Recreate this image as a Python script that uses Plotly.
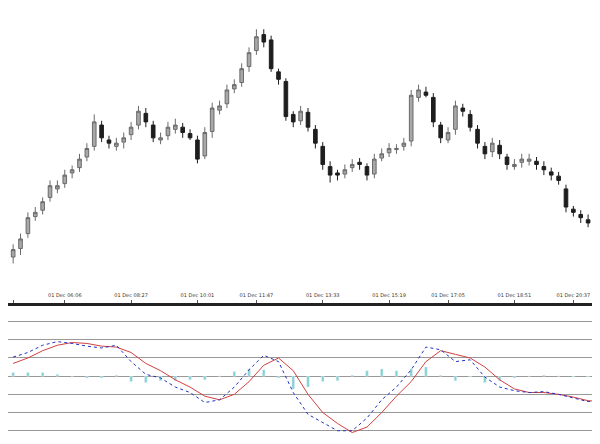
import plotly.graph_objects as go
from plotly.subplots import make_subplots

open_ = [48,56,70,86,92,104,112,117,127,132, 142,152,172,158,152,156,163,172,183,172,
         158,162,168,170,164,158,143,166,186,192, 206,212,227,242,257,252,222,213,182,176,
         184,168,152,133,127,126,132,137,133,126, 141,146,149,152,157,198,203,198,172,158,
         168,188,182,168,152,147,153,142,133,137, 138,138,133,128,124,112,93,88,83,78, 74]
high = [60,70,90,95,104,120,120,130,134,145, 155,182,176,162,160,165,175,190,188,176,
        165,175,178,174,168,162,170,193,195,210, 215,230,245,262,262,256,225,216,185,190,
        188,172,156,138,130,135,140,141,136,145, 150,155,154,160,205,210,208,202,175,170,
        195,192,186,172,156,160,158,145,140,145, 145,142,138,132,128,116,96,92,88,82, 78]
low = [42,50,66,82,88,100,108,113,122,128, 138,148,156,150,148,150,158,168,170,156,
       154,158,164,160,158,136,140,160,182,188, 202,208,222,238,245,222,210,176,170,172,
       166,150,130,118,120,122,128,130,120,122, 138,142,145,148,152,194,198,170,155,155,
       163,180,166,150,140,142,140,130,130,132, 134,130,125,120,116,90,86,80,76,70, 65]
close = [55,65,85,90,100,115,115,125,130,140, 150,175,160,155,155,160,170,185,175,160,
         160,170,172,165,160,140,165,188,190,205, 210,225,240,255,250,225,215,180,175,185,
         170,155,135,125,125,130,135,135,125,140, 145,150,150,155,200,205,200,175,160,165,
         190,185,170,155,145,155,145,135,135,140, 140,135,130,125,120,95,90,85,80,75, 70]

macd_x = list(range(0, 81, 2))
macd = [1.05,1.3,1.7,1.9,1.8,1.65,1.55,1.7,0.8,0.1, -0.1,-0.6,-0.9,-1.45,-1.3,-0.6,0.35,1.15,0.8,-0.9,
        -2.1,-2.55,-3.0,-3.0,-2.3,-1.3,-0.6,0.35,1.6,1.45, 0.8,0.9,-0.05,-0.6,-0.8,-0.9,-0.85,-1.0,-1.2,-1.4, -1.3]
signal = [0.7,1.0,1.4,1.7,1.85,1.8,1.65,1.6,1.3,0.7, 0.3,-0.2,-0.6,-1.1,-1.3,-1.0,-0.3,0.6,1.0,0.3,
          -1.0,-2.0,-2.6,-3.1,-2.8,-2.0,-1.1,-0.3,0.8,1.4, 1.2,1.0,0.5,-0.2,-0.7,-0.9,-0.9,-1.0,-1.15,-1.35, -1.4]
hist = [0.2,0.2,0.2,0.1,0,-0.1,-0.1,0.05,-0.3,-0.35, -0.25,-0.25,-0.2,-0.2,0,0.25,0.4,0.35,-0.1,-0.7,
        -0.6,-0.3,-0.25,0.05,0.3,0.4,0.3,0.4,0.5,0.05, -0.25,-0.05,-0.35,-0.25,-0.1,0,0.05,0,-0.05,-0.05, 0.1]

tick_pos = [0, 7, 16, 25, 33, 42, 51, 59, 68, 76]
tick_text = ["01 Dec 04:06", "01 Dec 06:06", "01 Dec 08:27", "01 Dec 10:01", "01 Dec 11:47",
             "01 Dec 13:33", "01 Dec 15:19", "01 Dec 17:05", "01 Dec 18:51", "01 Dec 20:37"]

fig = make_subplots(rows=2, cols=1, shared_xaxes=False, vertical_spacing=0.02,
                    row_heights=[0.68, 0.32])

fig.add_trace(go.Candlestick(
    x=list(range(len(close))), open=open_, high=high, low=low, close=close,
    increasing=dict(fillcolor="#a8a8a8", line=dict(color="#6a6a6a", width=1)),
    decreasing=dict(fillcolor="#1e1e1e", line=dict(color="#1e1e1e", width=1)),
    whiskerwidth=0, showlegend=False), row=1, col=1)

fig.add_trace(go.Bar(x=macd_x, y=hist, marker_color="#7fd3d3", width=0.35, showlegend=False), row=2, col=1)
fig.add_trace(go.Scatter(x=macd_x, y=signal, mode="lines", line=dict(color="#d04040", width=1), showlegend=False), row=2, col=1)
fig.add_trace(go.Scatter(x=macd_x, y=macd, mode="lines", line=dict(color="#2030c0", width=1, dash="dot"), showlegend=False), row=2, col=1)

fig.update_layout(
    width=600, height=444, margin=dict(l=0, r=0, t=0, b=4),
    plot_bgcolor="white", paper_bgcolor="white",
    xaxis=dict(range=[-0.7, 80.7], rangeslider=dict(visible=False), tickvals=tick_pos, ticktext=tick_text,
               ticklabelposition="inside", tickfont=dict(size=5, family="DejaVu Sans", color="#333"),
               ticks="inside", ticklen=3, tickcolor="#555",
               showgrid=False, showline=True, linecolor="#222", linewidth=3),
    yaxis=dict(range=[5, 282], visible=False, showgrid=False),
    xaxis2=dict(range=[-0.7, 80.7], showticklabels=False, showgrid=False, zeroline=False,
                showline=True, linecolor="#444", linewidth=5),
    yaxis2=dict(range=[-3.95, 3.55], tickvals=[-3, -2, -1, 0, 1, 2, 3], showticklabels=False,
                gridcolor="#999", gridwidth=1, zeroline=False),
)
fig.update_yaxes(domain=[0.33, 1.0], row=1, col=1)
fig.update_yaxes(domain=[0.0, 0.31], row=2, col=1)

fig.write_html("out.html")
